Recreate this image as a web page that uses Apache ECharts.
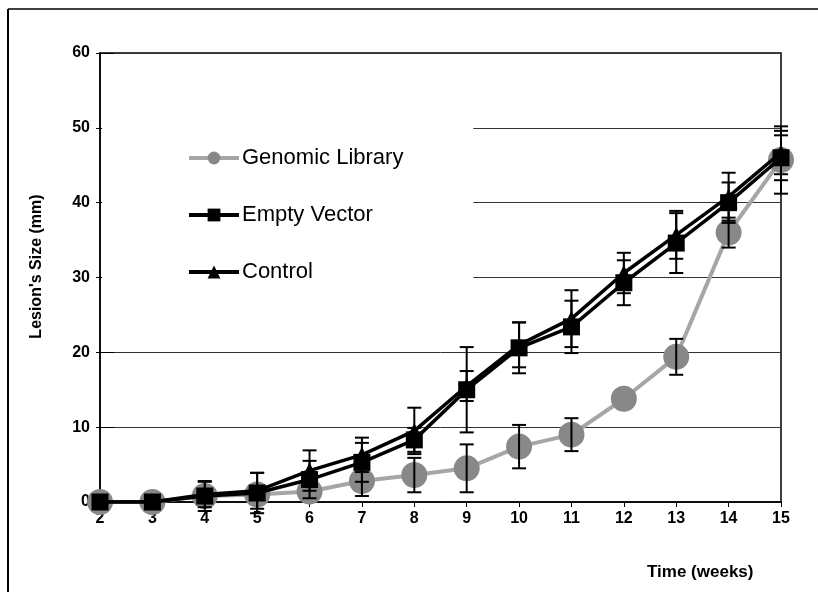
<!DOCTYPE html>
<html>
<head>
<meta charset="utf-8">
<script src="https://cdn.jsdelivr.net/npm/echarts@6/dist/echarts.min.js"></script>
<style>
  html, body { margin: 0; padding: 0; background: #fff; }
  #chart { width: 818px; height: 592px; }
</style>
</head>
<body>
<div id="chart"></div>
<script>
// weeks
var weeks = [2, 3, 4, 5, 6, 7, 8, 9, 10, 11, 12, 13, 14, 15];
// lesion size (mm)
var genomicLibrary = [0, 0, 0.8, 1, 1.4, 2.8, 3.6, 4.5, 7.4, 9, 13.8, 19.4, 36, 45.7];
var genomicErr     = [0, 0, 0, 0, 0, 2, 2.3, 3.2, 2.9, 2.2, 0, 2.4, 2, 4.5];
var emptyVector    = [0, 0, 0.8, 1.2, 3, 5.3, 8.3, 15, 20.6, 23.4, 29.3, 34.6, 40, 46];
var emptyErr       = [0, 0, 2, 2.7, 2.5, 2.6, 1.6, 5.7, 3.4, 3.5, 3, 4, 2.7, 3];
var control        = [0, 0, 1, 1.5, 4.2, 6.3, 9.5, 15.5, 21, 24.5, 30.6, 35.7, 40.8, 46.7];
var controlErr     = [0, 0, 1.7, 2.4, 2.7, 2.3, 3.1, 2, 3, 3.8, 2.7, 3.2, 3.2, 2.9];
var yTicks = [0, 10, 20, 30, 40, 50, 60];

var font = '"Liberation Sans", Arial, sans-serif';

function pairs(vals) {
  return weeks.map(function (w, i) { return [w, vals[i]]; });
}
function errData(vals, errs) {
  var out = [];
  weeks.forEach(function (w, i) {
    if (errs[i] > 0) out.push([w, vals[i] - errs[i], vals[i] + errs[i]]);
  });
  return out;
}
function errSeries(vals, errs) {
  return {
    type: 'custom',
    z: 10,
    silent: true,
    data: errData(vals, errs),
    renderItem: function (params, api) {
      var lo = api.coord([api.value(0), api.value(1)]);
      var hi = api.coord([api.value(0), api.value(2)]);
      var w = 7;
      var st = { stroke: '#000', lineWidth: 2 };
      return {
        type: 'group',
        children: [
          { type: 'line', shape: { x1: lo[0], y1: lo[1], x2: hi[0], y2: hi[1] }, style: st },
          { type: 'line', shape: { x1: lo[0] - w, y1: lo[1], x2: lo[0] + w, y2: lo[1] }, style: st },
          { type: 'line', shape: { x1: hi[0] - w, y1: hi[1], x2: hi[0] + w, y2: hi[1] }, style: st }
        ]
      };
    }
  };
}

var chart = echarts.init(document.getElementById('chart'));
chart.setOption({
  backgroundColor: '#fff',
  animation: false,
  grid: {
    left: 100, right: 37, top: 53, bottom: 90,
    show: true, borderColor: '#000', borderWidth: 1.5
  },
  legend: {
    orient: 'vertical',
    left: 102, top: 117,
    padding: [30, 70, 10, 85],
    backgroundColor: '#fff',
    itemWidth: 50, itemHeight: 16,
    itemGap: 35,
    lineStyle: { width: 4 },
    textStyle: { fontFamily: font, fontSize: 22, color: '#000', padding: [0, 0, 0, -2] },
    data: ['Genomic Library', 'Empty Vector', 'Control']
  },
  xAxis: {
    type: 'value', min: 2, max: 15, interval: 1,
    axisLine: { lineStyle: { color: '#000', width: 1.5 } },
    axisTick: { length: 5, lineStyle: { color: '#000' } },
    axisLabel: { fontFamily: font, fontSize: 16, fontWeight: 'bold', color: '#000', margin: 9 },
    splitLine: { show: false }
  },
  yAxis: [{
    type: 'value', min: yTicks[0], max: yTicks[yTicks.length - 1], interval: 10,
    name: "Lesion's Size (mm)",
    nameLocation: 'middle', nameGap: 55,
    nameTextStyle: { fontFamily: font, fontSize: 16, fontWeight: 'bold', color: '#000', padding: [0, 0, 0, 22] },
    axisLine: { show: true, lineStyle: { color: '#000', width: 1.5 } },
    axisTick: { show: true, length: 4, lineStyle: { color: '#000' } },
    axisLabel: { fontFamily: font, fontSize: 16, fontWeight: 'bold', color: '#000', margin: 10 },
    splitLine: { show: true, lineStyle: { color: '#333', width: 1 } }
  }, {
    type: 'value', min: 0, max: 60, interval: 10, position: 'left',
    axisLine: { show: false },
    axisTick: { show: true, inside: true, length: 14, lineStyle: { color: '#000' } },
    axisLabel: { show: false },
    splitLine: { show: false }
  }],
  graphic: [
    { type: 'text', left: 647, top: 564,
      style: { text: 'Time (weeks)', font: 'bold 17px ' + font, fill: '#000' } },
    { type: 'line', shape: { x1: 8, y1: 9, x2: 8, y2: 592 }, style: { stroke: '#000', lineWidth: 2 } },
    { type: 'line', shape: { x1: 8, y1: 9, x2: 818, y2: 9 }, style: { stroke: '#000', lineWidth: 1.5 } }
  ],
  series: [
    {
      name: 'Genomic Library', type: 'line', z: 2,
      data: pairs(genomicLibrary),
      symbol: 'circle', symbolSize: 26,
      itemStyle: { color: '#888' },
      lineStyle: { color: '#a6a6a6', width: 4 }
    },
    {
      name: 'Control', type: 'line', z: 3,
      data: pairs(control),
      symbol: 'triangle', symbolSize: 16,
      itemStyle: { color: '#000' },
      lineStyle: { color: '#000', width: 3.5 }
    },
    {
      name: 'Empty Vector', type: 'line', z: 4,
      data: pairs(emptyVector),
      symbol: 'rect', symbolSize: 17,
      itemStyle: { color: '#000' },
      lineStyle: { color: '#000', width: 3.5 }
    },
    errSeries(genomicLibrary, genomicErr),
    errSeries(control, controlErr),
    errSeries(emptyVector, emptyErr)
  ]
});
</script>
</body>
</html>
